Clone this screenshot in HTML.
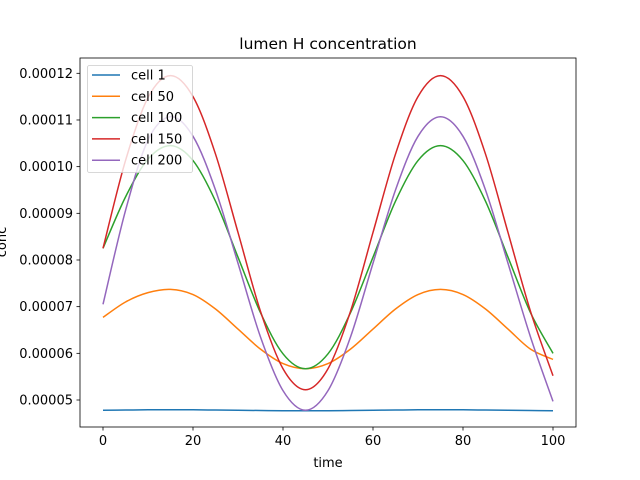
<!DOCTYPE html>
<html><head><meta charset="utf-8"><style>
body{margin:0;background:#fff;}
svg{display:block;font-family:"DejaVu Sans","Liberation Sans",sans-serif;}
</style></head><body>
<svg id="chart" width="640" height="480"></svg>
<script>
const times=[0,5,10,15,20,25,30,35,40,45,50,55,60,65,70,75,80,85,90,95,100];
const seriesNames=["cell 1","cell 50","cell 100","cell 150","cell 200"];
const cell1=[4.78,4.785,4.79,4.79,4.79,4.785,4.78,4.775,4.77,4.77,4.77,4.775,4.78,4.785,4.79,4.79,4.79,4.785,4.78,4.775,4.77];
const cell50=[6.77,7.10,7.30,7.37,7.26,6.95,6.52,6.09,5.78,5.67,5.78,6.09,6.52,6.95,7.26,7.37,7.26,6.95,6.52,6.09,5.87];
const cell100=[8.25,9.35,10.16,10.45,10.13,9.26,8.06,6.87,5.99,5.67,5.99,6.87,8.06,9.26,10.13,10.45,10.13,9.26,8.06,6.87,6.0];
const cell150=[8.25,10.13,11.48,11.95,11.50,10.27,8.59,6.90,5.67,5.22,5.67,6.90,8.59,10.27,11.50,11.95,11.50,10.27,8.59,6.90,5.52];
const cell200=[7.05,9.06,10.57,11.07,10.65,9.50,7.93,6.35,5.20,4.78,5.20,6.35,7.93,9.50,10.65,11.07,10.65,9.50,7.93,6.35,4.97];
const xTicks=[0,20,40,60,80,100];
const yTicks=[5,6,7,8,9,10,11,12];
const yTickLabels=["0.00005","0.00006","0.00007","0.00008","0.00009","0.00010","0.00011","0.00012"];
const colors=["#1f77b4","#ff7f0e","#2ca02c","#d62728","#9467bd"];
const allSeries=[cell1,cell50,cell100,cell150,cell200];

const NS="http://www.w3.org/2000/svg";
const svg=document.getElementById('chart');
const L=80,R=576,T=58,B=427;
const sx=t=>103+t*4.5;
const sy=v=>400-(v-5)*46.67;
function mk(tag,attrs,parent){const e=document.createElementNS(NS,tag);for(const k in attrs)e.setAttribute(k,attrs[k]);(parent||svg).appendChild(e);return e;}

let t=mk('text',{x:328,y:49,'text-anchor':'middle','font-size':15.5});t.textContent="lumen H concentration";



allSeries.forEach((s,i)=>{
  const pts=s.map((v,j)=>[sx(times[j]),sy(v)]);
  let d='M'+pts[0][0]+','+pts[0][1];
  for(let j=0;j<pts.length-1;j++){
    const p0=pts[Math.max(j-1,0)],p1=pts[j],p2=pts[j+1],p3=pts[Math.min(j+2,pts.length-1)];
    const c1=[p1[0]+(p2[0]-p0[0])/6,p1[1]+(p2[1]-p0[1])/6];
    const c2=[p2[0]-(p3[0]-p1[0])/6,p2[1]-(p3[1]-p1[1])/6];
    d+=' C'+c1+' '+c2+' '+p2;
  }
  const p=mk('path',{d:d,fill:'none',stroke:colors[i],'stroke-width':1.5});
  
  
});

const f=mk('rect',{x:L,y:T,width:R-L,height:B-T,fill:'none',stroke:'#000','stroke-width':0.8});



xTicks.forEach(v=>{
  mk('line',{x1:sx(v),x2:sx(v),y1:B,y2:B+3.5,stroke:'#000','stroke-width':0.8});
  const tx=mk('text',{x:sx(v),y:B+18,'text-anchor':'middle','font-size':13});tx.textContent=v;
  
  
});
yTicks.forEach((v,i)=>{
  mk('line',{x1:L-3.5,x2:L,y1:sy(v),y2:sy(v),stroke:'#000','stroke-width':0.8});
  const ty=mk('text',{x:L-7,y:sy(v)+4.5,'text-anchor':'end','font-size':13});ty.textContent=yTickLabels[i];
  
  
});
let xl=mk('text',{x:328,y:467,'text-anchor':'middle','font-size':13});xl.textContent="time";


let yl=mk('text',{x:0,y:0,'text-anchor':'middle','font-size':13,transform:'translate(6,242) rotate(-90)'});yl.textContent="conc";



const lg=mk('g',{});


mk('rect',{x:87.5,y:65.5,width:105,height:107,rx:2,fill:'#fff','fill-opacity':0.8,stroke:'#ccc','stroke-width':0.8},lg);
seriesNames.forEach((n,i)=>{
  const y=75+i*21.3;
  const g=mk('g',{},lg);
  
  
  mk('line',{x1:92,x2:120,y1:y,y2:y,stroke:colors[i],'stroke-width':1.5},g);
  const tt=mk('text',{x:131,y:y+4.5,'font-size':13},g);tt.textContent=n;
});
</script>
</body></html>
